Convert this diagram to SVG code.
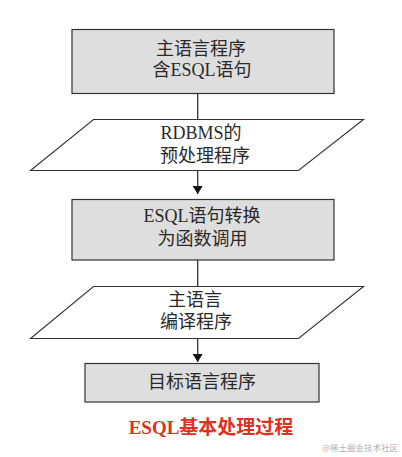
<svg xmlns="http://www.w3.org/2000/svg" width="402" height="457" viewBox="0 0 402 457">
<style>
.box{fill:#dedede;stroke:#333;stroke-width:1.2}
.para{fill:#fff;stroke:#333;stroke-width:1.1}
.t{font-family:"Liberation Serif","Noto Sans CJK SC",serif;font-size:18px;fill:#2a2a2a;text-anchor:middle}
.ln{stroke:#222;stroke-width:1.2;fill:none}
</style>
<defs>
<marker id="ah" viewBox="0 0 8 10" refX="8" refY="5" markerWidth="8" markerHeight="10" markerUnits="userSpaceOnUse" orient="auto">
<path d="M0,0 L8,5 L0,10 Z" fill="#111"/>
</marker>
</defs>
<rect width="402" height="457" fill="#fff"/>
<g id="connectors">
<line class="ln" x1="197.7" y1="93" x2="197.7" y2="119"/>
<line class="ln" x1="197.7" y1="171" x2="197.7" y2="194" marker-end="url(#ah)"/>
<line class="ln" x1="197.7" y1="260" x2="197.7" y2="286"/>
<line class="ln" x1="197.7" y1="338" x2="197.7" y2="362" marker-end="url(#ah)"/>
</g>
<g id="n1">
<rect class="box" x="72" y="29.5" width="262" height="64"/>
<text class="t" x="201" y="55">主语言程序</text>
<text class="t" x="202" y="76">含ESQL语句</text>
</g>
<g id="n2">
<polygon class="para" points="93.5,119.5 363.5,119.5 298.5,170.5 30.5,170.5"/>
<text class="t" x="201" y="139">RDBMS的</text>
<text class="t" x="205" y="162">预处理程序</text>
</g>
<g id="n3">
<rect class="box" x="72" y="199.5" width="262" height="60.5"/>
<text class="t" x="202" y="222">ESQL语句转换</text>
<text class="t" x="202.5" y="245">为函数调用</text>
</g>
<g id="n4">
<polygon class="para" points="93.5,286.5 363.5,286.5 298.5,338.5 30.5,338.5"/>
<text class="t" x="195" y="306">主语言</text>
<text class="t" x="196" y="328">编译程序</text>
</g>
<g id="n5">
<rect class="box" x="85" y="363.5" width="234" height="38.5"/>
<text class="t" x="202" y="388">目标语言程序</text>
</g>
<text x="211" y="434" text-anchor="middle" font-family="Liberation Serif,'Noto Sans CJK SC',serif" font-size="19" font-weight="bold" fill="#e0301e">ESQL基本处理过程</text>
<text x="398" y="451" text-anchor="end" font-family="'Noto Sans CJK SC',sans-serif" font-size="8.5" fill="#b0b0b0">@稀土掘金技术社区</text>
</svg>
